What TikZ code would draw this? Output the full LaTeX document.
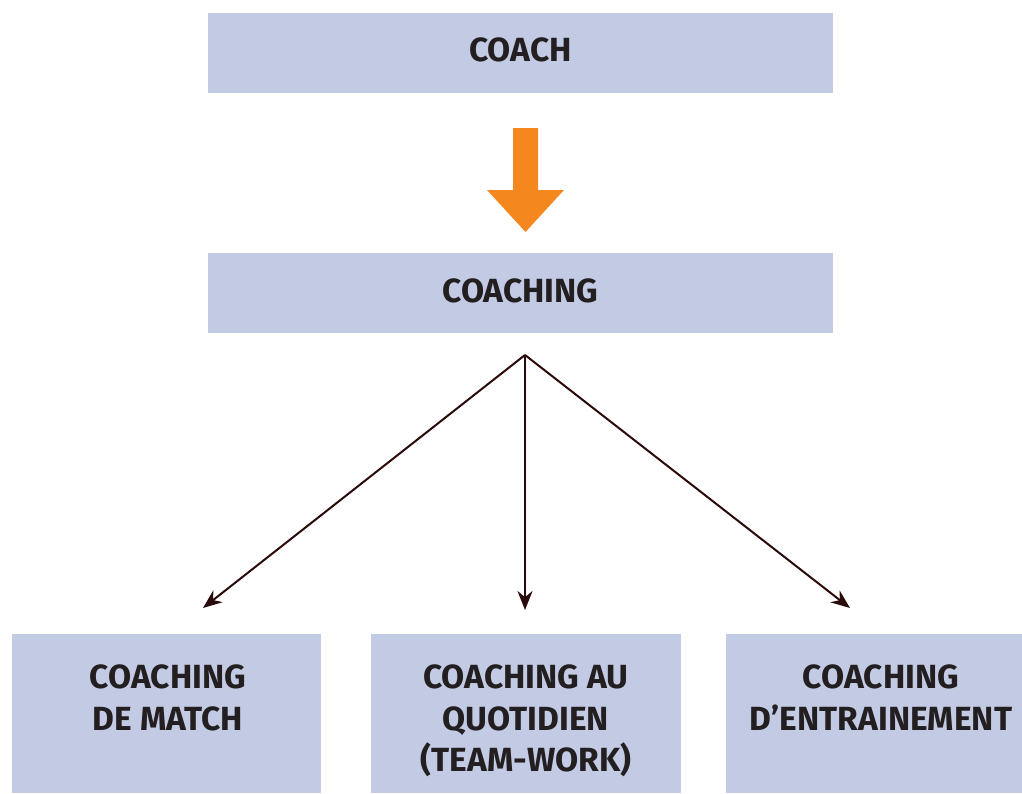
\documentclass[tikz,border=0pt]{standalone}
\usepackage{fontspec}
\setmainfont{Fira Sans}
\usetikzlibrary{arrows.meta}
\definecolor{boxfill}{HTML}{C3CAE4}
\definecolor{arroworange}{HTML}{F5871F}
\definecolor{linkcol}{HTML}{2A0A0A}
\definecolor{txt}{HTML}{231F20}
\tikzset{
  block/.style={fill=boxfill, draw=none, inner sep=0pt},
  caption/.style={font=\fontsize{33.5}{41.5}\selectfont\bfseries, text=txt, align=center, inner sep=0pt},
  link/.style={draw=linkcol, line width=2pt, -{Stealth[length=19pt,width=15pt]}}
}
\begin{document}
\begin{tikzpicture}[x=1pt,y=-1pt]
\useasboundingbox (0,0) rectangle (1022,793);
% top level boxes
\node[block, minimum width=625pt, minimum height=80pt] (coach) at (520.5,53) {};
\node[caption] (coachtxt) at (520.5,50) {COACH};
\node[block, minimum width=625pt, minimum height=80pt] (coaching) at (520.5,293) {};
\node[caption] (coachingtxt) at (520.5,291) {COACHING};
% orange block arrow between the two
\fill[arroworange] (513,128) -- (538,128) -- (538,190) -- (564,190) -- (525.5,232)
  -- (487,190) -- (513,190) -- cycle;
% bottom boxes
\node[block, minimum width=309pt, minimum height=159pt] (match) at (166.5,713.5) {};
\node[block, minimum width=310pt, minimum height=159pt] (daily) at (526,713.5) {};
\node[block, minimum width=296pt, minimum height=159pt] (training) at (874,713.5) {};
\node[caption, anchor=north] (matchtxt) at (168,665) {COACHING\\DE MATCH};
\node[caption, anchor=north] (dailytxt) at (526,665) {COACHING AU\\QUOTIDIEN\\(TEAM-WORK)};
\node[caption, anchor=north] (trainingtxt) at (881,665) {COACHING\\D’ENTRAINEMENT};
% branching connectors
\coordinate (hub) at (525,355);
\coordinate (endL) at (203,608);
\coordinate (endM) at (525,610);
\coordinate (endR) at (850,608);
\draw[link] (hub) -- (endL);
\draw[link] (hub) -- (endM);
\draw[link] (hub) -- (endR);
\end{tikzpicture}
\end{document}
